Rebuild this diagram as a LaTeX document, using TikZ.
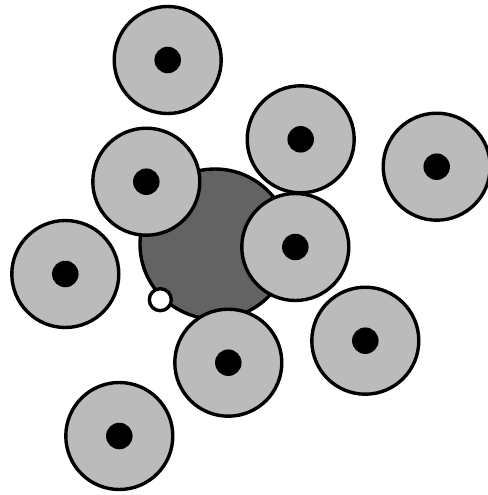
\documentclass[tikz,border=0pt]{standalone}
\usepackage{xcolor}
\usepackage{tikz}
\usetikzlibrary{positioning}
\definecolor{cyto}{HTML}{BBBBBB}
\definecolor{host}{HTML}{636363}

\begin{document}
\begin{tikzpicture}[
  x=1pt, y=-1pt,
  cell/.style={circle, draw=black, line width=3.4pt, fill=cyto, minimum size=107pt, inner sep=0pt},
  nucleus/.style={circle, fill=black, minimum size=26.5pt, inner sep=0pt},
  hostcell/.style={circle, draw=black, line width=3.4pt, fill=host, minimum size=150pt, inner sep=0pt},
  pore/.style={circle, draw=black, line width=3.4pt, fill=white, minimum size=22pt, inner sep=0pt}
]
  \useasboundingbox (0,0) rectangle (487,495);
  \node[hostcell] (big) at (215,244) {};
  \node[pore] (p) at (160.3,299.7) {};
  \foreach \x/\y [count=\i] in {167.7/60, 300.7/139.3, 436.7/166.7, 146.3/181.7, 295.3/247,
                                65.3/274, 365.3/340.7, 228.3/362.7, 119.3/436} {
    \node[cell] (c\i) at (\x,\y) {};
    \node[nucleus] (n\i) at (c\i.center) {};
  }
\end{tikzpicture}
\end{document}
